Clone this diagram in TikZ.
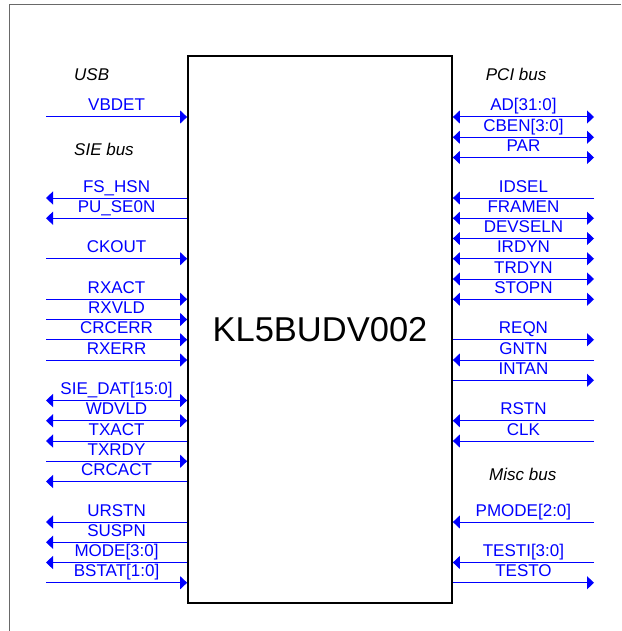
\documentclass[tikz,border=0pt]{standalone}
\usepackage{fontspec}
\setmainfont{Liberation Sans}
\usetikzlibrary{arrows.meta}
\definecolor{pinblue}{RGB}{0,0,255}
\definecolor{framegray}{RGB}{105,105,105}
\tikzset{
  chipbox/.style={draw=black, line width=1.8pt, minimum width=264pt,
    minimum height=547pt, inner sep=0pt, font=\fontsize{34.5}{34.5}\selectfont},
  busname/.style={anchor=base west, inner sep=0pt,
    font=\fontsize{17}{17}\selectfont\itshape},
  sigline/.style={pinblue, line width=1pt},
  siglbl/.style={midway, anchor=base, inner sep=0pt, yshift=6pt, text=pinblue,
    font=\fontsize{17}{17}\selectfont},
  sigin/.style={-{Triangle[length=7pt,width=13pt]}},
  sigout/.style={{Triangle[length=7pt,width=13pt]}-},
  sigbi/.style={{Triangle[length=7pt,width=13pt]}-{Triangle[length=7pt,width=13pt]}}
}

\begin{document}
\begin{tikzpicture}[x=1pt, y=-1pt]
  \useasboundingbox (0,0) rectangle (621,631);
  \draw[framegray, line width=1.2pt] (9.5,631) -- (9.5,4.5) -- (621,4.5);

  \node[chipbox] (chip) at (320,329.4) {KL5BUDV002};

  % bus headings
  \node[busname] (usb) at (74,81) {USB};
  \node[busname] (sie) at (74,156) {SIE bus};
  \node[busname] (pci) at (485.7,80.7) {PCI bus};
  \node[busname] (misc) at (489,480.7) {Misc bus};

  % left side pins, row k sits at y = 117 + 20.25 k
  \foreach \k/\sig/\dir in {0/VBDET/sigin, 4/FS\_HSN/sigout, 5/PU\_SE0N/sigout,
      7/CKOUT/sigin, 9/RXACT/sigin, 10/RXVLD/sigin, 11/CRCERR/sigin,
      12/RXERR/sigin, 14/SIE\_DAT[15:0]/sigbi, 15/WDVLD/sigbi, 16/TXACT/sigout,
      17/TXRDY/sigin, 18/CRCACT/sigout, 20/URSTN/sigout, 21/SUSPN/sigout,
      22/MODE[3:0]/sigout, 23/BSTAT[1:0]/sigin}{
    \coordinate (lo\k) at (46,117+20.25*\k);
    \draw[sigline,\dir] (lo\k) -- (chip.west |- lo\k) node[siglbl] {\sig};
  }

  % right side pins
  \foreach \k/\sig/\dir in {0/AD[31:0]/sigbi, 1/CBEN[3:0]/sigbi, 2/PAR/sigbi,
      4/IDSEL/sigin, 5/FRAMEN/sigbi, 6/DEVSELN/sigbi, 7/IRDYN/sigbi,
      8/TRDYN/sigbi, 9/STOPN/sigbi, 11/REQN/sigout, 12/GNTN/sigin,
      13/INTAN/sigout, 15/RSTN/sigin, 16/CLK/sigin, 20/PMODE[2:0]/sigin,
      22/TESTI[3:0]/sigin, 23/TESTO/sigout}{
    \coordinate (ro\k) at (594,117+20.25*\k);
    \draw[sigline,\dir] (ro\k) -- (chip.east |- ro\k) node[siglbl] {\sig};
  }
\end{tikzpicture}
\end{document}
